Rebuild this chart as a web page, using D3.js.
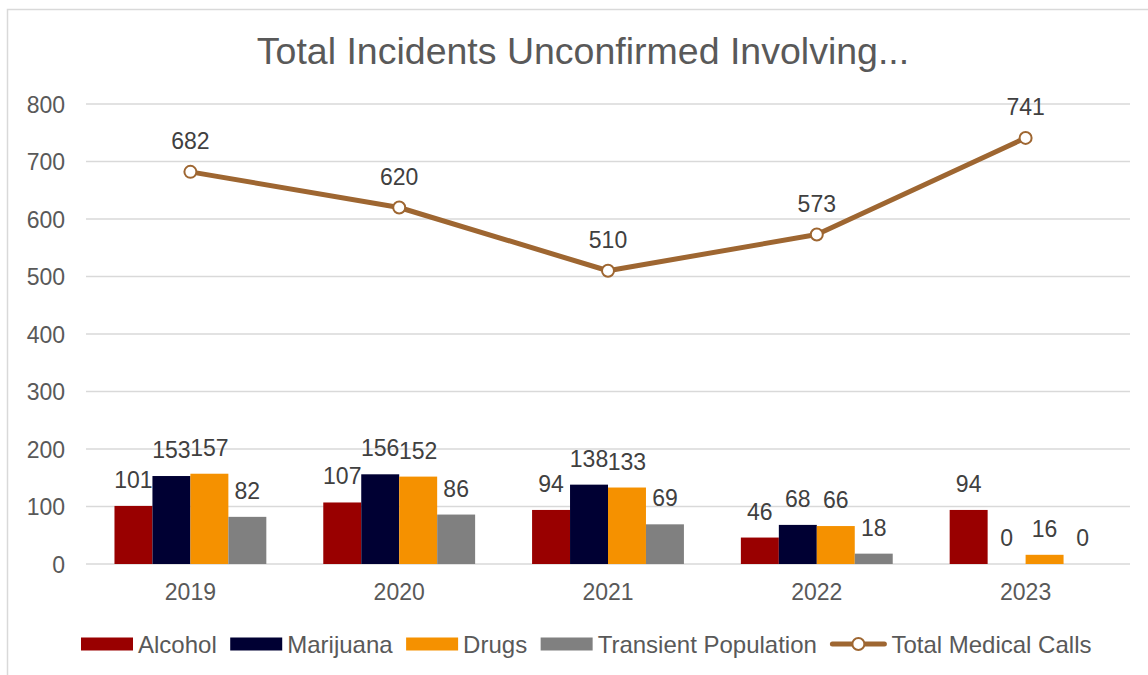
<!DOCTYPE html>
<html>
<head>
<meta charset="utf-8">
<script src="https://cdn.jsdelivr.net/npm/d3@7"></script>
<style>
  body { margin: 0; background: #fff; }
  text { font-family: "Liberation Sans", Arial, sans-serif; }
</style>
</head>
<body>
<script>
var years = ['2019', '2020', '2021', '2022', '2023'];
var seriesNames = ['Alcohol', 'Marijuana', 'Drugs', 'Transient Population'];
var alcohol = [101, 107, 94, 46, 94];
var marijuana = [153, 156, 138, 68, 0];
var drugs = [157, 152, 133, 66, 16];
var transient = [82, 86, 69, 18, 0];
var totalMedical = [682, 620, 510, 573, 741];
var yTicks = [0, 100, 200, 300, 400, 500, 600, 700, 800];
var lineName = 'Total Medical Calls';

var colours = ['#990000', '#000033', '#f59100', '#808080'];
var lineColour = '#9e6631';

var w = 1148;
var h = 675;
var plotLeft = 86, plotRight = 1130, plotTop = 104, plotBottom = 564;

var svg = d3.select('body')
  .append('svg')
  .attr('width', w)
  .attr('height', h);

// chart border (cropped on right and bottom)
svg.append('rect')
  .attr('x', 7.5).attr('y', 9.5)
  .attr('width', 1200).attr('height', 700)
  .attr('fill', 'none')
  .attr('stroke', '#d9d9d9')
  .attr('stroke-width', 1.5);

svg.append('text')
  .text('Total Incidents Unconfirmed Involving...')
  .attr('x', 583)
  .attr('y', 64)
  .attr('text-anchor', 'middle')
  .attr('font-size', '37.5px')
  .attr('fill', '#595959');

var xScale = d3.scaleBand()
  .domain(years)
  .range([plotLeft, plotRight]);

var xInner = d3.scaleBand()
  .domain(seriesNames)
  .range([0, xScale.bandwidth()])
  .paddingOuter(0.75);

var yScale = d3.scaleLinear()
  .domain([0, 800])
  .range([plotBottom, plotTop]);

// gridlines
svg.append('g')
  .selectAll('line')
  .data(yTicks)
  .enter()
  .append('line')
  .attr('x1', plotLeft)
  .attr('x2', plotRight)
  .attr('y1', function(d){ return yScale(d); })
  .attr('y2', function(d){ return yScale(d); })
  .attr('stroke', '#d9d9d9')
  .attr('stroke-width', 1.5);

var yAxis = d3.axisLeft(yScale).tickValues(yTicks).tickSize(0).tickPadding(0);
svg.append('g')
  .attr('transform', 'translate(65,0)')
  .call(yAxis)
  .call(function(g){ g.select('.domain').remove(); })
  .selectAll('text')
  .attr('font-size', '23px')
  .attr('font-family', '"Liberation Sans", Arial, sans-serif')
  .attr('fill', '#595959')
  .attr('dy', '0.35em');

var xAxis = d3.axisBottom(xScale).tickSize(0).tickPadding(0);
svg.append('g')
  .attr('transform', 'translate(0,' + (plotBottom + 36) + ')')
  .call(xAxis)
  .call(function(g){ g.select('.domain').remove(); })
  .selectAll('text')
  .attr('font-size', '23px')
  .attr('font-family', '"Liberation Sans", Arial, sans-serif')
  .attr('fill', '#595959')
  .attr('dy', 0);

var barData = [];
var seriesValues = [alcohol, marijuana, drugs, transient];
years.forEach(function(y, i){
  seriesNames.forEach(function(s, j){
    barData.push({ year: y, series: s, value: seriesValues[j][i], idx: j });
  });
});

svg.append('g')
  .selectAll('rect')
  .data(barData)
  .enter()
  .append('rect')
  .attr('x', function(d){ return xScale(d.year) + xInner(d.series); })
  .attr('y', function(d){ return yScale(d.value); })
  .attr('width', xInner.bandwidth())
  .attr('height', function(d){ return plotBottom - yScale(d.value); })
  .attr('fill', function(d){ return colours[d.idx]; });

svg.append('g')
  .selectAll('text')
  .data(barData)
  .enter()
  .append('text')
  .text(function(d){ return d.value; })
  .attr('x', function(d){ return xScale(d.year) + xInner(d.series) + xInner.bandwidth() / 2; })
  .attr('y', function(d){ return yScale(d.value) - 18; })
  .attr('text-anchor', 'middle')
  .attr('font-size', '23px')
  .attr('fill', '#404040');

// total medical calls line
var lineData = years.map(function(y, i){ return { year: y, value: totalMedical[i] }; });
var line = d3.line()
  .x(function(d){ return xScale(d.year) + xScale.bandwidth() / 2; })
  .y(function(d){ return yScale(d.value); });

svg.append('path')
  .datum(lineData)
  .attr('d', line)
  .attr('fill', 'none')
  .attr('stroke', lineColour)
  .attr('stroke-width', 5)
  .attr('stroke-linejoin', 'round');

svg.append('g')
  .selectAll('circle')
  .data(lineData)
  .enter()
  .append('circle')
  .attr('cx', function(d){ return xScale(d.year) + xScale.bandwidth() / 2; })
  .attr('cy', function(d){ return yScale(d.value); })
  .attr('r', 6)
  .attr('fill', '#fff')
  .attr('stroke', lineColour)
  .attr('stroke-width', 2);

svg.append('g')
  .selectAll('text')
  .data(lineData)
  .enter()
  .append('text')
  .text(function(d){ return d.value; })
  .attr('x', function(d){ return xScale(d.year) + xScale.bandwidth() / 2; })
  .attr('y', function(d){ return yScale(d.value) - 23; })
  .attr('text-anchor', 'middle')
  .attr('font-size', '23px')
  .attr('fill', '#404040');

// legend
var legend = svg.append('g');
var legendItems = seriesNames.concat([lineName]);
var lx = 81;
var ly = 644;
legendItems.forEach(function(name, i){
  var g = legend.append('g');
  var sw = 52;
  if (i < 4) {
    g.append('rect')
      .attr('x', lx).attr('y', ly - 6.5)
      .attr('width', sw).attr('height', 13)
      .attr('fill', colours[i]);
  } else {
    sw = 56;
    g.append('line')
      .attr('x1', lx + 2).attr('x2', lx + sw - 2)
      .attr('y1', ly).attr('y2', ly)
      .attr('stroke', lineColour)
      .attr('stroke-width', 5)
      .attr('stroke-linecap', 'round');
    g.append('circle')
      .attr('cx', lx + sw / 2).attr('cy', ly)
      .attr('r', 6)
      .attr('fill', '#fff')
      .attr('stroke', lineColour)
      .attr('stroke-width', 2);
  }
  var t = g.append('text')
    .text(name)
    .attr('x', lx + sw + 5)
    .attr('y', ly + 8.5)
    .attr('font-size', '24px')
    .attr('fill', '#595959');
  lx = lx + sw + 5 + t.node().getComputedTextLength() + 13.5;
});
</script>
</body>
</html>
